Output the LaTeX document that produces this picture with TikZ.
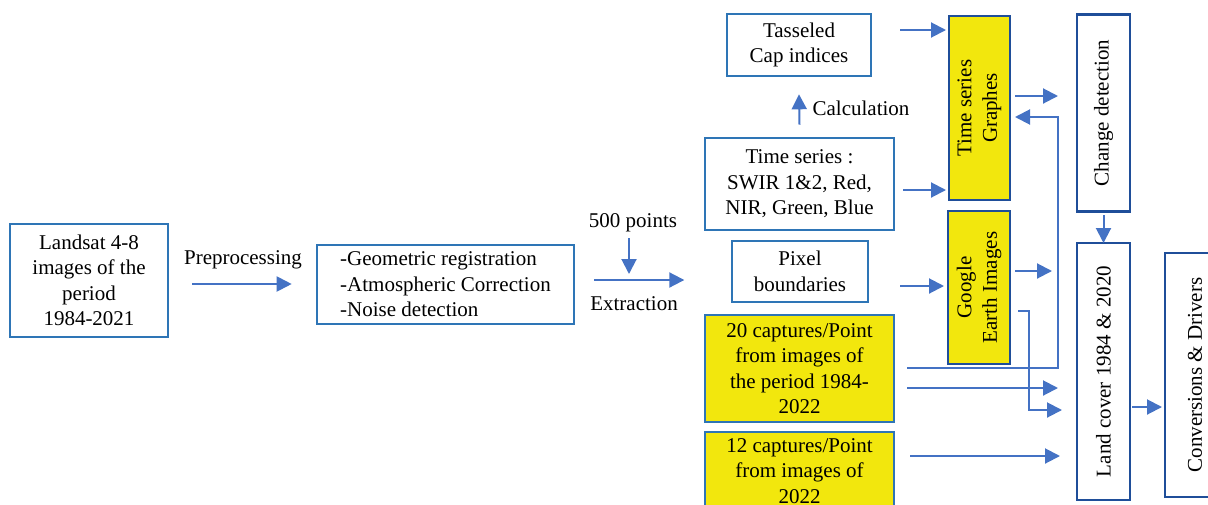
\documentclass[tikz,border=0pt]{standalone}
\usepackage{fontspec}
\setmainfont{Liberation Serif}
\usetikzlibrary{arrows.meta,calc}
\definecolor{lblue}{HTML}{2E75B6}
\definecolor{dblue}{HTML}{1F4E99}
\definecolor{ablue}{HTML}{4472C4}
\definecolor{yfill}{HTML}{F2E70D}
\begin{document}
\begin{tikzpicture}[x=1pt,y=-1pt,
  every node/.style={font=\fontsize{21}{25.5}\selectfont, inner sep=0pt},
  box/.style={draw=lblue, line width=2.6pt, fill=white, align=center},
  ybox/.style={box, fill=yfill},
  vbox/.style={draw=dblue, line width=2.6pt, fill=white, align=center, rotate=90},
  vybox/.style={vbox, fill=yfill},
  arr/.style={draw=ablue, line width=2pt, -{Triangle[length=15pt,width=15pt]}}]
\useasboundingbox (0,0) rectangle (1208,504);
\clip (0,0) rectangle (1208,504);
% boxes
\node[box, minimum width=158pt, minimum height=113pt] (land) at (89,280.5) {Landsat 4-8\\images of the\\period\\1984-2021};
\node[box, minimum width=257pt, minimum height=79pt, align=left] (prep) at (445.5,284.5) {-Geometric registration\\-Atmospheric Correction\\-Noise detection};
\node[box, minimum width=144pt, minimum height=62pt] (tass) at (799,45) {Tasseled\\Cap indices};
\node[box, minimum width=189pt, minimum height=92pt] (ts) at (799.5,184) {Time series :\\SWIR 1\&2, Red,\\NIR, Green, Blue};
\node[box, minimum width=136pt, minimum height=61pt] (pix) at (800,271.5) {Pixel\\boundaries};
\node[ybox, minimum width=189pt, minimum height=107pt] (y20) at (799.5,368.5) {20 captures/Point\\from images of\\the period 1984-\\2022};
\node[ybox, minimum width=189pt, minimum height=78pt] (y12) at (799.5,471) {12 captures/Point\\from images of\\2022};
\node[vybox, minimum width=184pt, minimum height=61pt] (tsg) at (979.5,108) {Time series\\Graphes};
\node[vybox, minimum width=153pt, minimum height=62pt] (gei) at (979,287.5) {Google\\Earth Images};
\node[vbox, minimum width=197pt, minimum height=53pt] (cd) at (1103.5,113) {Change detection};
\node[vbox, minimum width=257pt, minimum height=53pt] (lc) at (1103.5,371.5) {Land cover 1984 \& 2020};
\node[vbox, minimum width=244pt, minimum height=60pt] (conv) at (1195,375) {Conversions \& Drivers};
% labels
\node (prepl) at (243,260) {Preprocessing};
\node (pts) at (633,223) {500 points};
\node (extr) at (634,304) {Extraction};
\node (calcl) at (861,108) {Calculation};
% arrows
\draw[arr] ($(land.east)+(23,3.5)$) -- ($(prep.west)+(-24,-0.5)$);
\draw[arr] ($(pts.center)+(-4,15)$) -- ++(0,36);
\draw[arr] ($(prep.east)+(19,-4.5)$) -- ++(90,0);
\draw[arr] ($(ts.north)+(0,-12)$) -- ($(tass.south)+(0,17)$);
\draw[arr] ($(tass.east)+(28,-15)$) -- ($(tsg.center)+(-33.5,-78)$);
\draw[arr] ($(ts.east)+(8,6)$) -- ($(tsg.center)+(-33.5,82)$);
\draw[arr] ($(pix.east)+(31,14.5)$) -- ($(gei.center)+(-35,-1.5)$);
\draw[arr] ($(tsg.center)+(35.5,-12)$) -- ($(cd.center)+(-45.5,-17)$);
\draw[arr] ($(y20.east)+(12,-0.5)$) -- ++(151,0) -- ++(0,-251) -- ($(tsg.center)+(35.5,9)$);
\draw[arr] ($(gei.center)+(36,-16.5)$) -- ++(37,0);
\draw[arr] ($(gei.center)+(39,23.5)$) -- ++(11,0) -- ++(0,99) -- ++(33,0);
\draw[arr] ($(y20.east)+(12,19.5)$) -- ($(lc.center)+(-45.5,16.5)$);
\draw[arr] ($(y12.east)+(15,-15)$) -- ($(lc.center)+(-43.5,84.5)$);
\draw[arr] ($(cd.center)+(0,102)$) -- ($(lc.center)+(0,-128.5)$);
\draw[arr] ($(lc.center)+(28.5,35.5)$) -- ($(conv.center)+(-33,32)$);
\end{tikzpicture}
\end{document}
